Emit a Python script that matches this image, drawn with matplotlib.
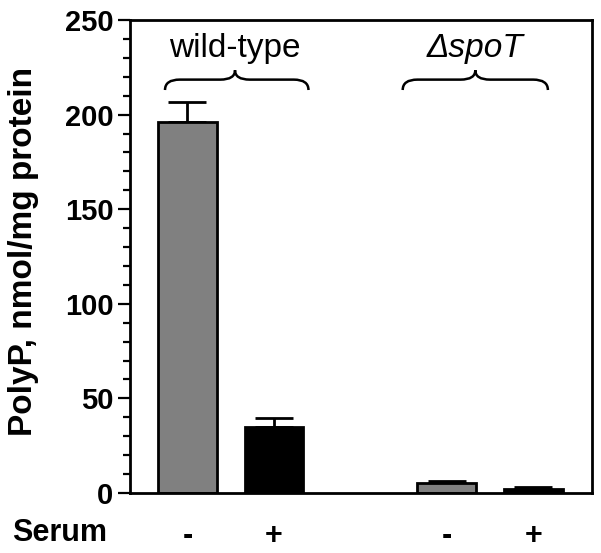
import numpy as np
import matplotlib
matplotlib.use("Agg")
import matplotlib.pyplot as plt
from matplotlib.path import Path
from matplotlib.patches import PathPatch

plt.rcParams['font.family'] = ['Liberation Sans', 'DejaVu Sans']

# PolyP levels (nmol/mg protein), wild-type and spoT mutant, - / + serum
positions = [0, 1, 3, 4]
values = [196, 35, 5.3, 2.2]
errors = [10.5, 4.5, 1.0, 0.8]
colors = ['#808080', '#000000', '#808080', '#000000']
serum_labels = ['-', '+', '-', '+']
groups = ['wild-type', 'ΔspoT']
group_centers = [0.55, 3.33]
group_spans = [(-0.26, 1.40), (2.49, 4.17)]


def brace(ax, x0, x1, xm, y_tip=213, y_flat=218.5, y_peak=223.5, r=0.17):
    verts = [(x0, y_tip), (x0, y_flat), (x0 + r, y_flat),
             (xm - r, y_flat),
             (xm, y_flat), (xm, y_peak),
             (xm, y_flat), (xm + r, y_flat),
             (x1 - r, y_flat),
             (x1, y_flat), (x1, y_tip)]
    codes = [Path.MOVETO, Path.CURVE3, Path.CURVE3,
             Path.LINETO,
             Path.CURVE3, Path.CURVE3,
             Path.CURVE3, Path.CURVE3,
             Path.LINETO,
             Path.CURVE3, Path.CURVE3]
    ax.add_patch(PathPatch(Path(verts, codes), fill=False, lw=1.8,
                           edgecolor='black', clip_on=False))


fig = plt.figure(figsize=(6.01, 5.53), dpi=100)
ax = fig.add_axes([0.2163, 0.1085, 0.7687, 0.8553])

ax.bar(positions, values, width=0.68, color=colors, edgecolor='black',
       linewidth=2, zorder=2)
ax.errorbar(positions, values, yerr=[np.zeros(len(errors)), errors],
            fmt='none', ecolor='black', elinewidth=2, capsize=14,
            capthick=2, zorder=1)

ax.set_xlim(-0.665, 4.68)
ax.set_ylim(0, 250)
ax.set_yticks(np.arange(0, 251, 50))
ax.set_yticks(np.arange(0, 251, 10), minor=True)
ax.set_xticks(positions)
ax.set_xticklabels(serum_labels, fontsize=22, fontweight='bold')
ax.tick_params(axis='x', length=0, pad=20)
ax.tick_params(axis='y', which='major', length=9, width=1.6,
               labelsize=21, pad=3)
ax.tick_params(axis='y', which='minor', length=5, width=1.6)
for lbl in ax.get_yticklabels():
    lbl.set_fontweight('bold')
for sp in ax.spines.values():
    sp.set_linewidth(2)

ax.set_ylabel('PolyP, nmol/mg protein', fontsize=24, fontweight='bold')
ax.yaxis.set_label_coords(-0.196, 0.51)

fig.text(0.02, 0.036, 'Serum', fontsize=22, fontweight='bold', va='center')

for name, xc, (x0, x1) in zip(groups, group_centers, group_spans):
    style = 'italic' if name.startswith('Δ') else 'normal'
    ax.text(xc, 230.5, name, fontsize=24, ha='center', va='baseline',
            style=style)
    brace(ax, x0, x1, xc)

fig.savefig('out.png', dpi=100)
